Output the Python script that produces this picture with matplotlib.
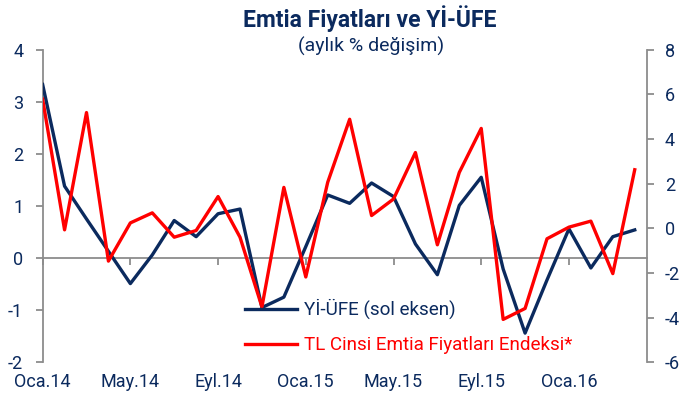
import numpy as np
import matplotlib.pyplot as plt

plt.rcParams['font.family'] = ['Roboto', 'DejaVu Sans']
plt.rcParams['axes.unicode_minus'] = False

# monthly data, Oca.14 .. Nis.16
months = ["Oca.14", "Şub.14", "Mar.14", "Nis.14", "May.14", "Haz.14", "Tem.14", "Ağu.14",
          "Eyl.14", "Eki.14", "Kas.14", "Ara.14", "Oca.15", "Şub.15", "Mar.15", "Nis.15",
          "May.15", "Haz.15", "Tem.15", "Ağu.15", "Eyl.15", "Eki.15", "Kas.15", "Ara.15",
          "Oca.16", "Şub.16", "Mar.16", "Nis.16"]
yi_ufe = [3.33, 1.38, 0.75, 0.13, -0.49, 0.06, 0.72, 0.41, 0.85, 0.94, -0.95, -0.75,
          0.22, 1.21, 1.05, 1.44, 1.18, 0.27, -0.32, 1.01, 1.55, -0.21, -1.44, -0.42,
          0.56, -0.19, 0.41, 0.54]
emtia = [5.78, -0.07, 5.18, -1.47, 0.24, 0.69, -0.40, -0.10, 1.42, -0.40, -3.52, 1.83,
         -2.18, 2.06, 4.88, 0.57, 1.31, 3.39, -0.74, 2.50, 4.47, -4.08, -3.59, -0.47,
         0.05, 0.32, -2.03, 2.62]

navy = '#0B2A5E'
red = '#FF0000'
grey = '#8C8C8C'

fig = plt.figure(figsize=(6.99, 4.03), dpi=100)
ax = fig.add_axes([0.061, 0.101, 0.864, 0.776])
ax2 = ax.twinx()

x = np.arange(len(months))
ax.plot(x, yi_ufe, color=navy, lw=2.4, label='Yİ-ÜFE (sol eksen)', zorder=3)
ax2.plot(x, emtia, color=red, lw=2.4, label='TL Cinsi Emtia Fiyatları Endeksi*')

ax.set_xlim(0, len(months) - 1 + 0.54)
ax.set_ylim(-2, 4)
ax2.set_ylim(-6, 8)
ax.set_yticks(range(-2, 5))
ax2.set_yticks(range(-6, 9, 2))

for s in ['top', 'bottom']:
    ax.spines[s].set_visible(False)
    ax2.spines[s].set_visible(False)
ax.spines['right'].set_visible(False)
ax2.spines['left'].set_visible(False)
ax.spines['left'].set_color(grey)
ax2.spines['right'].set_color(grey)
ax.spines['left'].set_linewidth(1.3)
ax2.spines['right'].set_linewidth(1.3)

ax.tick_params(axis='y', colors=grey, labelcolor=navy, labelsize=13, length=5, width=1.3, pad=9)
ax2.tick_params(axis='y', colors=grey, labelcolor=navy, labelsize=13, length=5, width=1.3, pad=8)

# category labels at the bottom, every 4 months
ax.set_xticks(x[::4])
ax.set_xticklabels(months[::4])
ax.tick_params(axis='x', length=0, labelcolor=navy, labelsize=13, pad=8)

# zero line with tick marks
zero = ax.secondary_xaxis(1 / 3)
zero.set_xticks(x[::4])
zero.tick_params(axis='x', direction='out', length=5, width=1.3, colors=grey, labelbottom=False,
                 labeltop=False)
zero.spines['bottom'].set_color(grey)
zero.spines['bottom'].set_linewidth(1.3)
zero.spines['top'].set_visible(False)

h1, l1 = ax.get_legend_handles_labels()
h2, l2 = ax2.get_legend_handles_labels()
leg = fig.legend(h1 + h2, l1 + l2, loc='upper left', bbox_to_anchor=(0.3505, 0.258),
                 frameon=False, fontsize=13.6, handlelength=2.75, labelspacing=0.9,
                 handletextpad=0.37, borderpad=0, borderaxespad=0)
for t, c in zip(leg.get_texts(), [navy, red]):
    t.set_color(c)

fig.text(0.529, 0.955, 'Emtia Fiyatları ve Yİ-ÜFE', ha='center', va='center',
         fontsize=16.5, fontweight='bold', color=navy)
fig.text(0.531, 0.885, '(aylık % değişim)', ha='center', va='center',
         fontsize=14, color=navy)

fig.savefig('out.png', dpi=100)
